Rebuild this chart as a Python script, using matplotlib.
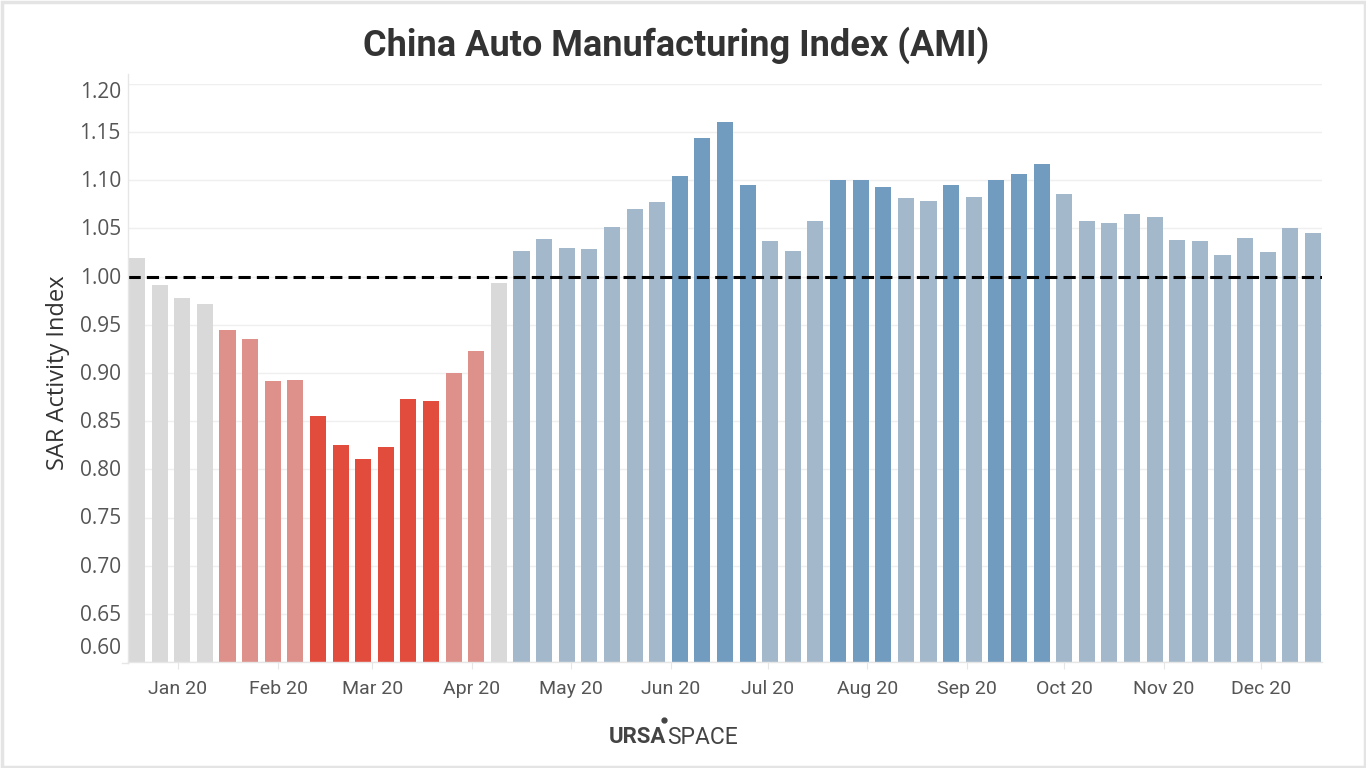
import matplotlib
matplotlib.use("Agg")
import matplotlib.pyplot as plt
from matplotlib.lines import Line2D
from matplotlib.patches import Rectangle
from matplotlib.transforms import ScaledTranslation

# ---- data ----
weeks = list(range(53))
values = [1.019, 0.991, 0.978, 0.972, 0.945, 0.935, 0.892, 0.893, 0.855, 0.825,
          0.811, 0.823, 0.873, 0.871, 0.900, 0.923, 0.993, 1.027, 1.039, 1.030,
          1.029, 1.052, 1.070, 1.078, 1.104, 1.144, 1.161, 1.095, 1.037, 1.027,
          1.058, 1.100, 1.100, 1.093, 1.082, 1.079, 1.095, 1.083, 1.100, 1.107,
          1.117, 1.086, 1.058, 1.056, 1.065, 1.062, 1.038, 1.037, 1.022, 1.040,
          1.026, 1.050, 1.045]
# category of each bar: g=neutral, lr=light red, r=red, lb=light blue, b=blue
categories = ["g"] * 4 + ["lr"] * 4 + ["r"] * 6 + ["lr"] * 2 + ["g"] + \
             ["lb"] * 7 + ["b"] * 4 + ["lb"] * 3 + ["b"] * 3 + ["lb"] * 2 + \
             ["b"] + ["lb"] + ["b"] * 3 + ["lb"] * 12
month_labels = ["Jan 20", "Feb 20", "Mar 20", "Apr 20", "May 20", "Jun 20",
                "Jul 20", "Aug 20", "Sep 20", "Oct 20", "Nov 20", "Dec 20"]
month_pos = [1.81, 6.24, 10.4, 14.8, 19.2, 23.6, 27.9, 32.3, 36.7, 41.0, 45.4, 49.7]
y_ticks = [0.60, 0.65, 0.70, 0.75, 0.80, 0.85, 0.90, 0.95, 1.00, 1.05, 1.10, 1.15, 1.20]

palette = {"g": "#d9d9d9", "lr": "#de918a", "r": "#e24c3d",
           "lb": "#a3b8cb", "b": "#719bbf"}

W, H = 1366, 768
fig = plt.figure(figsize=(W / 100, H / 100), dpi=100)
fig.patch.set_facecolor("white")

ax = fig.add_axes([128 / W, 1 - 662 / H, (1322 - 128) / W, (662 - 84) / H])
ax.set_facecolor("white")

ax.bar(weeks, [v - 0.60 for v in values], bottom=0.60, width=0.71,
       color=[palette[c] for c in categories], zorder=2)

ax.set_xlim(-0.4, 52.4)
ax.set_ylim(0.60, 1.20)

# grid
for t in y_ticks:
    ax.axhline(t, color="#efefef", lw=1.0, zorder=0)

ax.axhline(1.0, color="black", lw=2.2, linestyle=(0, (4, 2)), zorder=3)

for s in ["top", "right", "left"]:
    ax.spines[s].set_visible(False)
ax.spines["bottom"].set_color("#e6e6e6")
ax.spines["bottom"].set_linewidth(1.0)

# y tick labels (manual, end labels nudged inward like the reference)
ax.set_yticks([])
ytrans = ax.get_yaxis_transform()
for t in y_ticks:
    dy = -1.5
    if abs(t - 1.20) < 1e-9:
        dy = -8
    elif abs(t - 0.60) < 1e-9:
        dy = 13
    tr = ytrans + ScaledTranslation(0, dy / 100, fig.dpi_scale_trans)
    ax.text(-0.006, t, f"{t:.2f}", transform=tr, ha="right", va="center",
            fontsize=15, color="#555555", family="Open Sans")

ax.set_xticks(month_pos)
ax.set_xticklabels(month_labels, fontsize=14, color="#555555", family="Roboto")
ax.tick_params(axis="x", length=5, color="#e6e6e6", pad=8)

ax.set_ylabel("SAR Activity Index", fontsize=17, color="#333333",
              family="Open Sans", labelpad=42)

# left axis line extending above
fig.add_artist(Line2D([128 / W, 128 / W], [1 - 74 / H, 1 - 663 / H],
                      color="#e6e6e6", lw=1.0))
fig.add_artist(Line2D([122 / W, 128 / W], [1 - 663 / H, 1 - 663 / H],
                      color="#e6e6e6", lw=1.0))

# title
fig.text(676 / W, 1 - 45 / H, "China Auto Manufacturing Index (AMI)",
         ha="center", va="center", fontsize=26, fontweight="bold",
         color="#333333", family="Roboto")

# logo
fig.text(666 / W, 1 - 737 / H, "URSA", ha="right", va="center", fontsize=16,
         fontweight="bold", color="#444444", family="Roboto")
fig.text(667 / W, 1 - 737 / H, "SPACE", ha="left", va="center", fontsize=16.5,
         color="#444444", family="Roboto")
fig.add_artist(Line2D([664 / W], [1 - 720 / H], marker="o", markersize=3.5,
                      color="#444444", linestyle="none"))

# outer frame
fig.add_artist(Rectangle((1.5 / W, 1.5 / H), (W - 3) / W, (H - 3) / H,
                         transform=fig.transFigure, fill=False,
                         edgecolor="#e4e4e4", lw=2.5))

fig.savefig("out.png", dpi=100, facecolor="white")
